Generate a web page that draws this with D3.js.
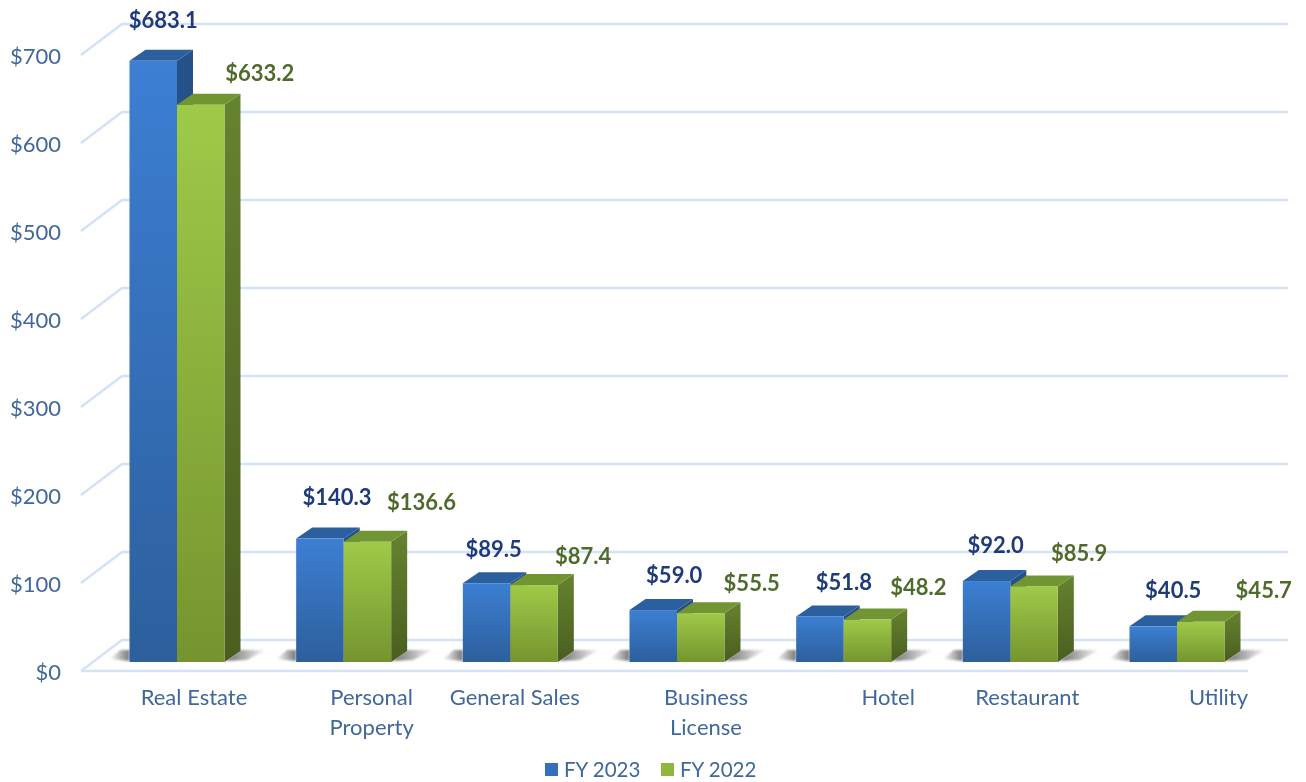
<!DOCTYPE html>
<html>
<head>
<meta charset="utf-8">
<script src="https://cdn.jsdelivr.net/npm/d3@7"></script>
<style>
  html, body { margin: 0; padding: 0; background: #fff; }
  text { font-family: Lato, "Open Sans", sans-serif; }
  /* the reference is a slightly soft screenshot */
  svg { filter: blur(0.45px); }
</style>
</head>
<body>
<div id="chart"></div>
<script>
const categories = ["Real Estate", "Personal Property", "General Sales", "Business License", "Hotel", "Restaurant", "Utility"];
const categoryLines = [["Real Estate"], ["Personal", "Property"], ["General Sales"], ["Business", "License"], ["Hotel"], ["Restaurant"], ["Utility"]];
const seriesNames = ["FY 2023", "FY 2022"];
const fy2023 = [683.1, 140.3, 89.5, 59.0, 51.8, 92.0, 40.5];
const fy2022 = [633.2, 136.6, 87.4, 55.5, 48.2, 85.9, 45.7];
const yTicks = [0, 100, 200, 300, 400, 500, 600, 700];

// hand placed in the original, so offsets are per category
const labelDx = [17, 28, 4.5, 29, 44.5, 17, 41.5];
const valueDx = { "FY 2023": [10, 17, 7, 21, 24, 9, 20], "FY 2022": [59, 54, 49, 51, 51, 45, 63] };
const valueDy = { "FY 2023": [41, 42, 34, 35, 34, 36, 36], "FY 2022": [32, 40, 29, 30, 33, 33, 32] };

const width = 1306, height = 782;
const depthX = 16, depthY = 11;
const floorY = 662;

const svg = d3.select("#chart").append("svg")
  .attr("width", width)
  .attr("height", height)
  .style("display", "block");

const defs = svg.append("defs");

function vGradient(id, top, bottom) {
  const g = defs.append("linearGradient").attr("id", id)
    .attr("x1", 0).attr("x2", 0).attr("y1", 0).attr("y2", 1);
  g.append("stop").attr("offset", "0%").attr("stop-color", top);
  g.append("stop").attr("offset", "100%").attr("stop-color", bottom);
}
vGradient("blueFront", "#3c7fd3", "#2d5f9c");
vGradient("blueSide", "#25528a", "#1f4674");
vGradient("greenFront", "#9fca48", "#75942f");
vGradient("greenSide", "#66832f", "#4a5e20");

function hGradient(id, left, right) {
  const g = defs.append("linearGradient").attr("id", id)
    .attr("x1", 0).attr("x2", 1).attr("y1", 0).attr("y2", 0);
  g.append("stop").attr("offset", "0%").attr("stop-color", left);
  g.append("stop").attr("offset", "100%").attr("stop-color", right);
}
hGradient("shadowRight", "#666", "#fff");
hGradient("shadowLeft", "#fff", "#777");

defs.append("filter").attr("id", "soft")
  .attr("x", "-20%").attr("width", "140%").attr("y", "-40%").attr("height", "180%")
  .append("feGaussianBlur").attr("stdDeviation", 1);

const colors = {
  "FY 2023": { front: "url(#blueFront)", side: "url(#blueSide)", top: "#2b5f9d", label: "#1f3b7a", key: "#3570bc" },
  "FY 2022": { front: "url(#greenFront)", side: "url(#greenSide)", top: "#729534", label: "#4f6b2b", key: "#8fb63f" },
};

// Scales
const yScale = d3.scaleLinear().domain([0, 700]).range([floorY, floorY - 616]);
const xScale = d3.scaleBand().domain(categories).range([129.5, 1224.5]).paddingInner(0.43).paddingOuter(0);
const xSub = d3.scaleBand().domain(seriesNames).range([0, xScale.bandwidth()]);

// Gridlines, drawn as wall plus side wall
const gridG = svg.append("g").attr("class", "grid");
yTicks.forEach((t) => {
  const yb = yScale(t) - 22;
  gridG.append("path")
    .attr("d", d3.line()([[81, yb + 31], [122, yb], [1288, yb]]))
    .attr("fill", "none")
    .attr("stroke", "#d3e2f5")
    .attr("stroke-width", 2.5);
});
gridG.append("line")
  .attr("x1", 81).attr("x2", 1248)
  .attr("y1", yScale(0) + 9).attr("y2", yScale(0) + 9)
  .attr("stroke", "#d3e2f5")
  .attr("stroke-width", 2.5);

// Y axis
const yAxisG = svg.append("g")
  .attr("class", "y-axis")
  .attr("transform", "translate(61,10)")
  .call(d3.axisLeft(yScale).tickValues(yTicks).tickSize(0).tickPadding(0).tickFormat((d) => `$${d}`));
yAxisG.select(".domain").remove();
yAxisG.selectAll("text")
  .attr("font-size", "22px")
  .attr("fill", "#41689a");

// Bars
const groups = svg.append("g").attr("class", "bars")
  .selectAll("g")
  .data(categories)
  .join("g")
  .attr("transform", (d) => `translate(${xScale(d)},0)`);

const bw = xScale.bandwidth();
groups.append("polygon")
  .attr("points", `${-20},${floorY - 3} ${-9},${floorY - 12} 0,${floorY - 12} 0,${floorY - 1}`)
  .attr("fill", "url(#shadowLeft)")
  .attr("filter", "url(#soft)");
groups.append("polygon")
  .attr("points", `${bw},${floorY} ${bw + depthX},${floorY - 12} ${bw + 42},${floorY - 12} ${bw + 22},${floorY - 2} ${bw},${floorY - 1}`)
  .attr("fill", "url(#shadowRight)")
  .attr("filter", "url(#soft)");

seriesNames.forEach((name, s) => {
  const values = s === 0 ? fy2023 : fy2022;
  const c = colors[name];
  const w = xSub.bandwidth();
  const x0 = xSub(name);
  groups.each(function (d, i) {
    const g = d3.select(this);
    const top = yScale(values[i]);
    g.append("polygon")
      .attr("points", [[x0 + w, top], [x0 + w + depthX, top - depthY], [x0 + w + depthX, floorY - depthY], [x0 + w, floorY]].join(" "))
      .attr("fill", c.side);
    g.append("polygon")
      .attr("points", [[x0, top], [x0 + depthX, top - depthY], [x0 + w + depthX, top - depthY], [x0 + w, top]].join(" "))
      .attr("fill", c.top);
    g.append("rect")
      .attr("x", x0)
      .attr("y", top)
      .attr("width", w)
      .attr("height", floorY - top)
      .attr("fill", c.front);
  });
});

// Value labels go last so nothing covers them
seriesNames.forEach((name, s) => {
  const values = s === 0 ? fy2023 : fy2022;
  svg.append("g").attr("class", "values")
    .selectAll("text")
    .data(categories)
    .join("text")
    .attr("x", (d, i) => xScale(d) + xSub(name) + xSub.bandwidth() / 2 + valueDx[name][i])
    .attr("y", (d, i) => yScale(values[i]) - valueDy[name][i] + 8)
    .attr("text-anchor", "middle")
    .attr("font-size", "22px")
    .attr("font-weight", 700)
    .attr("fill", colors[name].label)
    .text((d, i) => `$${values[i].toFixed(1)}`);
});

// Category labels
const catG = svg.append("g").attr("class", "categories");
categories.forEach((cat, i) => {
  const t = catG.append("text")
    .attr("x", xScale(cat) + bw / 2 + labelDx[i])
    .attr("y", 705)
    .attr("text-anchor", "middle")
    .attr("font-size", "22px")
    .attr("fill", "#41689a");
  categoryLines[i].forEach((line, k) => {
    t.append("tspan")
      .attr("x", xScale(cat) + bw / 2 + labelDx[i])
      .attr("y", 705 + k * 30)
      .text(line);
  });
});

// Legend
const legendX = { "FY 2023": 545, "FY 2022": 661 };
seriesNames.forEach((name) => {
  const g = svg.append("g").attr("transform", `translate(${legendX[name]},763)`);
  g.append("rect").attr("width", 13).attr("height", 13).attr("fill", colors[name].key);
  g.append("text").attr("x", 19).attr("y", 14).attr("font-size", "20.5px").attr("fill", "#41689a").text(name);
});
</script>
</body>
</html>
